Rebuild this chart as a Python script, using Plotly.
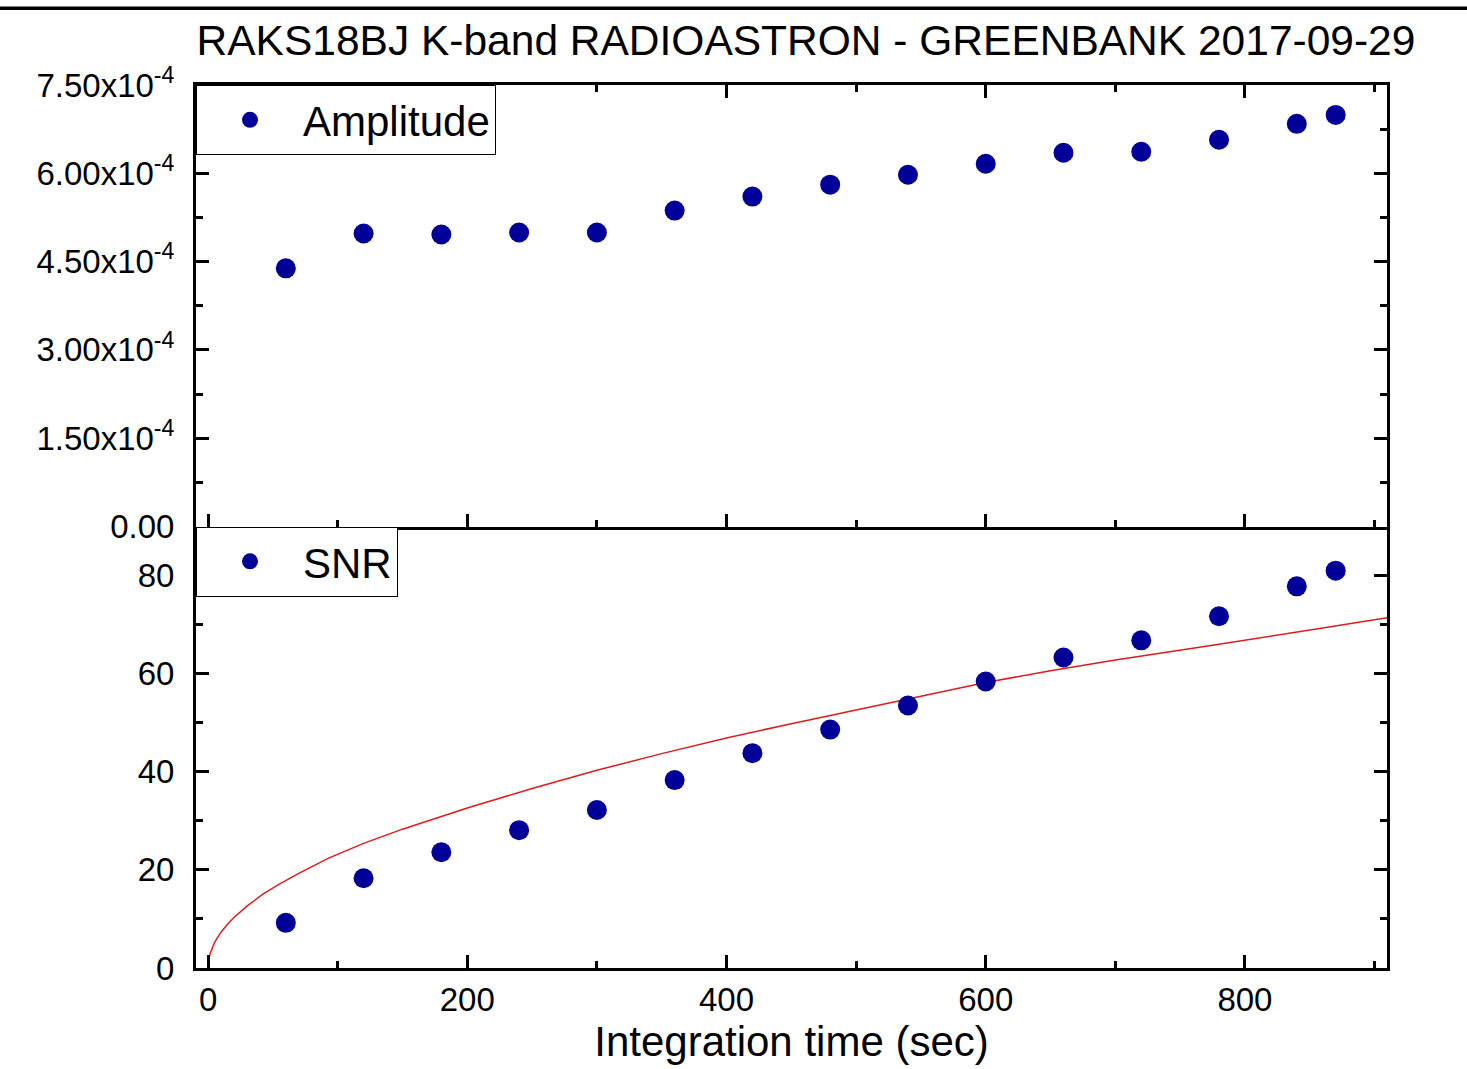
import plotly.graph_objects as go

# ---- data ----
time_s = [60, 120, 180, 240, 300, 360, 420, 480, 540, 600, 660, 720, 780, 840, 870]
amplitude = [4.385e-4, 4.977e-4, 4.96e-4, 4.994e-4, 4.994e-4, 5.367e-4, 5.604e-4, 5.807e-4,
             5.976e-4, 6.163e-4, 6.349e-4, 6.366e-4, 6.569e-4, 6.84e-4, 6.992e-4]
snr = [9.2, 18.3, 23.6, 28.1, 32.2, 38.3, 43.8, 48.6, 53.5, 58.4, 63.3, 66.8, 71.7, 77.8, 81.0]

# red fitted curve
fit_t = [0, 0.5, 1, 2, 3.5, 5, 7.5, 10, 15, 20, 30, 42, 55, 70, 93, 120, 150, 200, 250,
         300, 350, 400, 450, 500, 550, 600, 650, 700, 770, 820, 860, 910]
fit_snr = [0, 1.6, 2.3, 3.2, 4.3, 5.2, 6.3, 7.3, 8.9, 10.3, 12.6, 15.0, 17.1, 19.3, 22.4,
           25.4, 28.3, 32.6, 36.6, 40.3, 43.7, 46.9, 49.8, 52.6, 55.5, 58.2, 60.6, 62.8,
           65.6, 67.6, 69.3, 71.4]

amp_tickvals = [0, 1.5e-4, 3.0e-4, 4.5e-4, 6.0e-4, 7.5e-4]
amp_ticktext = ["0.00", "1.50x10<sup>-4</sup>", "3.00x10<sup>-4</sup>", "4.50x10<sup>-4</sup>",
                "6.00x10<sup>-4</sup>", "7.50x10<sup>-4</sup>"]
snr_tickvals = [0, 20, 40, 60, 80]
x_tickvals = [0, 200, 400, 600, 800]

title_text = "RAKS18BJ K-band RADIOASTRON - GREENBANK 2017-09-29"
x_title = "Integration time (sec)"

FONT = "Liberation Sans, Arial, sans-serif"
DOT = "#000099"

fig = go.Figure()
fig.add_trace(go.Scatter(x=time_s, y=amplitude, mode="markers", name="Amplitude",
                         marker=dict(color=DOT, size=20), xaxis="x2", yaxis="y2",
                         legend="legend"))
fig.add_trace(go.Scatter(x=fit_t, y=fit_snr, mode="lines", showlegend=False,
                         line=dict(color="#dd1c1c", width=1.5),
                         xaxis="x", yaxis="y"))
fig.add_trace(go.Scatter(x=time_s, y=snr, mode="markers", name="SNR",
                         marker=dict(color=DOT, size=20), xaxis="x", yaxis="y",
                         legend="legend2"))

axis_common = dict(showline=True, linecolor="black", linewidth=3, showgrid=False,
                   zeroline=False, ticks="inside", tickcolor="black", tickwidth=3,
                   ticklen=13, tickfont=dict(family=FONT, size=33, color="black"))
xr = [-9.3, 909.6]

legend_common = dict(x=0, xanchor="left", yanchor="top", bordercolor="black",
                     borderwidth=1, bgcolor="white",
                     font=dict(family=FONT, size=42, color="black"), itemwidth=96)

fig.update_layout(
    width=1467, height=1069,
    margin=dict(l=196, r=80, t=85, b=98),
    paper_bgcolor="white", plot_bgcolor="white",
    font=dict(family=FONT, color="black"),
    title=dict(text=title_text, x=0.5494, xanchor="center", y=0.962, yanchor="middle",
               font=dict(family=FONT, size=42.5, color="black")),
    xaxis=dict(**axis_common, domain=[0, 1], range=xr, anchor="y",
               tickvals=x_tickvals, mirror=False,
               minor=dict(dtick=100, tick0=0, ticklen=7, tickwidth=2.5, ticks="inside",
                          tickcolor="black"),
               title=dict(text=x_title, font=dict(family=FONT, size=42, color="black"),
                          standoff=10)),
    yaxis=dict(**axis_common, domain=[0, 0.5], range=[0, 90], anchor="x",
               tickvals=snr_tickvals, mirror="ticks", ticklabelstandoff=12,
               minor=dict(dtick=10, tick0=0, ticklen=7, tickwidth=2.5, ticks="inside",
                          tickcolor="black")),
    xaxis2=dict(**axis_common, domain=[0, 1], range=xr, anchor="y2",
                tickvals=x_tickvals, mirror="ticks", showticklabels=False,
                minor=dict(dtick=100, tick0=0, ticklen=7, tickwidth=2.5, ticks="inside",
                           tickcolor="black")),
    yaxis2=dict(**axis_common, domain=[0.5, 1], range=[0, 7.5e-4], anchor="x2",
                tickvals=amp_tickvals, ticktext=amp_ticktext, mirror="ticks",
                ticklabelstandoff=12,
                minor=dict(dtick=0.75e-4, tick0=0, ticklen=7, tickwidth=2.5,
                           ticks="inside", tickcolor="black")),
    legend=dict(**legend_common, y=1),
    legend2=dict(**legend_common, y=0.5),
    shapes=[dict(type="line", xref="paper", yref="paper",
                 x0=-196 / 1191, x1=1271 / 1191, y0=963 / 886, y1=963 / 886,
                 line=dict(color="black", width=3.5))],
)

fig.write_html("out.html", post_script="document.body.style.margin='0';",
               config={"displayModeBar": False})
